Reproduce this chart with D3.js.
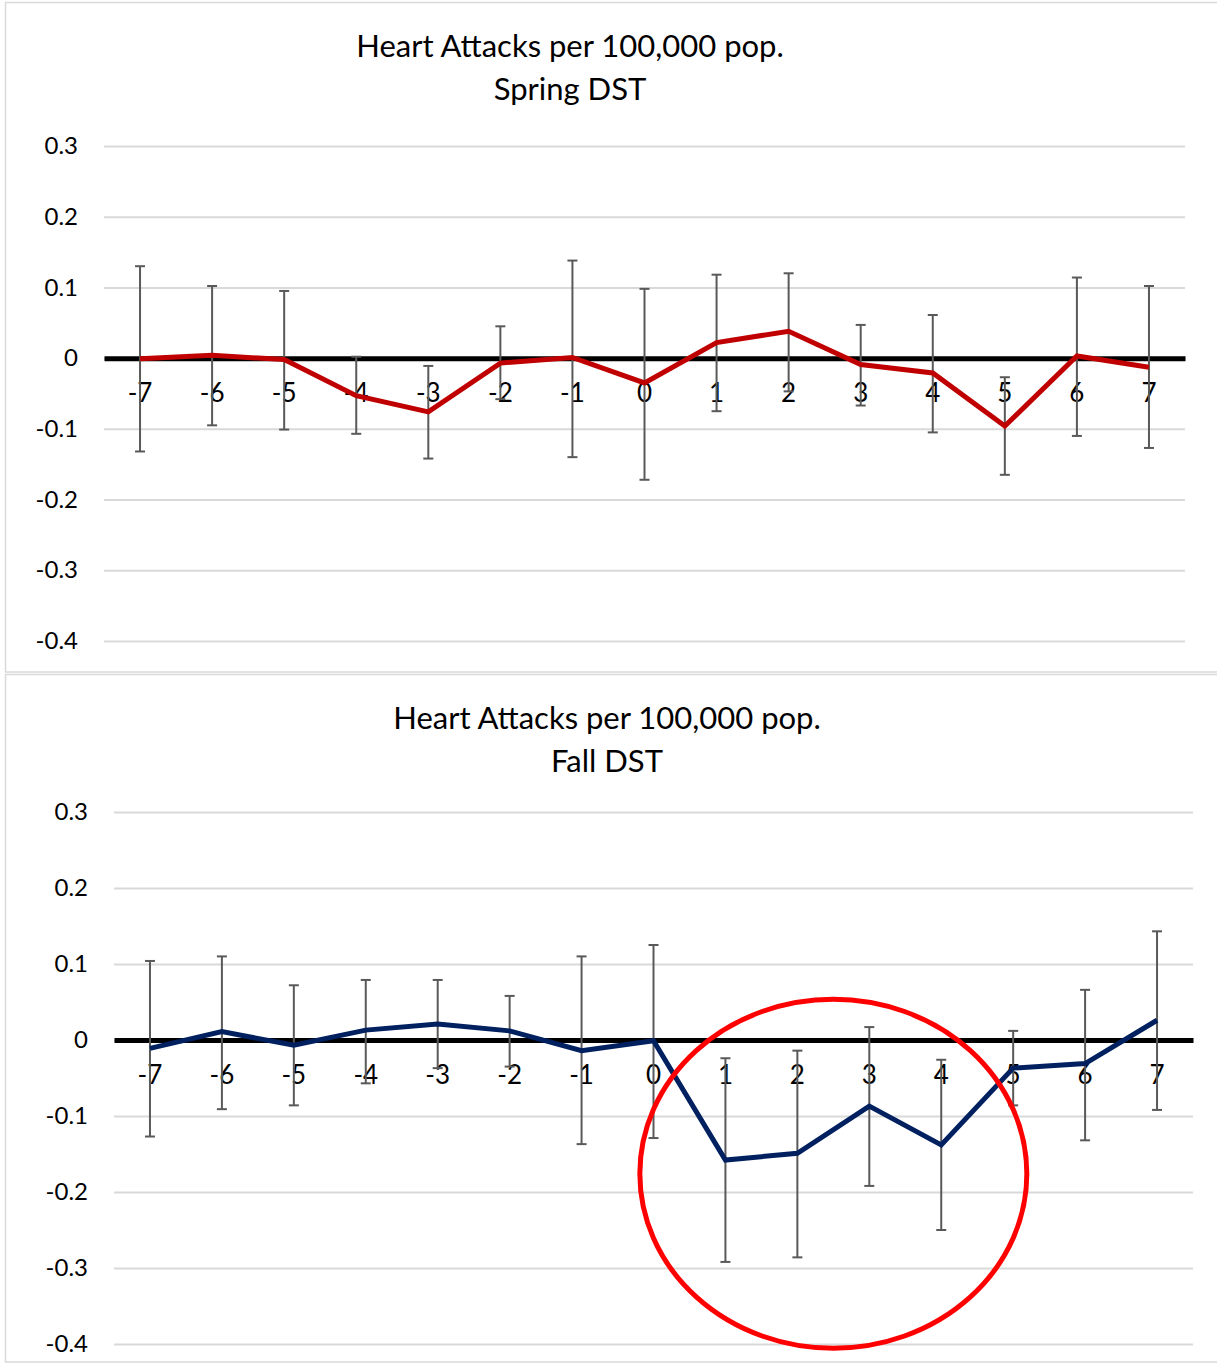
<!DOCTYPE html>
<html>
<head>
<meta charset="utf-8">
<script src="https://cdn.jsdelivr.net/npm/d3@7"></script>
<style>
  html, body { margin: 0; padding: 0; background: #fff; }
  svg { display: block; font-family: Lato, "Open Sans", sans-serif; }
</style>
</head>
<body>
<svg id="chart"></svg>
<script>
// days around the DST switch
const days = [-7, -6, -5, -4, -3, -2, -1, 0, 1, 2, 3, 4, 5, 6, 7];
const yTicks = [0.3, 0.2, 0.1, 0, -0.1, -0.2, -0.3, -0.4];

// Spring DST: mean and error bar ends
const springMean = [-0.001, 0.004, -0.002, -0.053, -0.076, -0.007, 0.001, -0.035, 0.022, 0.038, -0.009, -0.021, -0.096, 0.003, -0.013];
const springHigh = [0.130, 0.102, 0.095, 0.002, -0.011, 0.045, 0.138, 0.098, 0.118, 0.120, 0.047, 0.061, -0.027, 0.114, 0.102];
const springLow = [-0.132, -0.095, -0.101, -0.107, -0.142, -0.058, -0.140, -0.172, -0.075, -0.047, -0.067, -0.105, -0.165, -0.110, -0.127];

// Fall DST: mean and error bar ends
const fallMean = [-0.011, 0.011, -0.007, 0.013, 0.021, 0.012, -0.014, -0.001, -0.158, -0.149, -0.087, -0.138, -0.037, -0.031, 0.026];
const fallHigh = [0.104, 0.110, 0.072, 0.079, 0.079, 0.058, 0.110, 0.125, -0.024, -0.014, 0.017, -0.026, 0.012, 0.066, 0.143];
const fallLow = [-0.127, -0.091, -0.086, -0.057, -0.037, -0.035, -0.137, -0.129, -0.292, -0.286, -0.192, -0.250, -0.086, -0.132, -0.092];

const W = 1217, H = 1364;
const svg = d3.select('#chart').attr('width', W).attr('height', H);

const panels = [
  {
    title: ['Heart Attacks per 100,000 pop.', 'Spring DST'],
    mean: springMean, high: springHigh, low: springLow, color: '#c00000',
    frameTop: 2.5, frameBottom: 672,
    left: 104, right: 1185, top: 146, bottom: 641,
    titleX: 570, titleY: 57
  },
  {
    title: ['Heart Attacks per 100,000 pop.', 'Fall DST'],
    mean: fallMean, high: fallHigh, low: fallLow, color: '#002060',
    frameTop: 674.5, frameBottom: 1362,
    left: 114, right: 1193, top: 812, bottom: 1344,
    titleX: 607, titleY: 729
  }
];

const fmt = d => String(+d.toFixed(1));

panels.forEach((p, pi) => {
  const g = svg.append('g');

  // chart frame (right edge runs off the picture)
  g.append('rect')
    .attr('x', 5.5).attr('y', p.frameTop)
    .attr('width', W + 10).attr('height', p.frameBottom - p.frameTop)
    .attr('fill', 'none').attr('stroke', '#d9d9d9').attr('stroke-width', 1.5);

  const x = d3.scaleBand().domain(days).range([p.left, p.right]).padding(0);
  const cx = d => x(d) + x.bandwidth() / 2;
  const y = d3.scaleLinear().domain([-0.4, 0.3]).range([p.bottom, p.top]);

  // title
  g.append('text')
    .attr('x', p.titleX).attr('y', p.titleY)
    .attr('text-anchor', 'middle').attr('font-size', 31).attr('fill', '#000')
    .selectAll('tspan').data(p.title).enter().append('tspan')
    .attr('x', p.titleX).attr('dy', (d, i) => i ? 43 : 0)
    .text(d => d);

  // y axis + gridlines
  const yAxis = g.append('g')
    .attr('transform', `translate(${p.left},0)`)
    .call(d3.axisLeft(y).tickValues(yTicks).tickFormat(fmt)
      .tickSize(-(p.right - p.left)).tickPadding(26));
  yAxis.select('.domain').remove();
  yAxis.selectAll('.tick line').attr('stroke', '#d9d9d9').attr('stroke-width', 2);
  yAxis.selectAll('.tick text')
    .attr('font-size', 24).attr('fill', '#000').attr('font-family', 'Lato, sans-serif');

  // x axis sitting on zero
  const xAxis = g.append('g')
    .attr('transform', `translate(0,${y(0)})`)
    .call(d3.axisBottom(x).tickSize(0).tickSizeOuter(0));
  xAxis.select('.domain').attr('stroke', '#000').attr('stroke-width', 5);
  xAxis.selectAll('.tick text')
    .attr('y', 44).attr('dy', null)
    .attr('font-size', 26).attr('fill', '#000').attr('font-family', 'Lato, sans-serif');

  // error bars
  const eb = g.append('g').attr('stroke', '#595959').attr('stroke-width', 2);
  days.forEach((d, i) => {
    const xx = cx(d);
    eb.append('line').attr('x1', xx).attr('x2', xx).attr('y1', y(p.high[i])).attr('y2', y(p.low[i]));
    eb.append('line').attr('x1', xx - 5).attr('x2', xx + 5).attr('y1', y(p.high[i])).attr('y2', y(p.high[i]));
    eb.append('line').attr('x1', xx - 5).attr('x2', xx + 5).attr('y1', y(p.low[i])).attr('y2', y(p.low[i]));
  });

  // series line
  const line = d3.line().x((d, i) => cx(days[i])).y(d => y(d));
  g.append('path')
    .datum(p.mean)
    .attr('d', line)
    .attr('fill', 'none')
    .attr('stroke', p.color)
    .attr('stroke-width', 5)
    .attr('stroke-linejoin', 'miter');

  // hand-drawn highlight around days 1-4 of the fall chart
  if (pi === 1) {
    const ecx = (cx(2) + cx(3)) / 2;
    g.append('ellipse')
      .attr('cx', ecx).attr('cy', y(-0.176))
      .attr('rx', 193.5).attr('ry', 174.5)
      .attr('fill', 'none').attr('stroke', '#ff0000').attr('stroke-width', 5);
  }
});
</script>
</body>
</html>
